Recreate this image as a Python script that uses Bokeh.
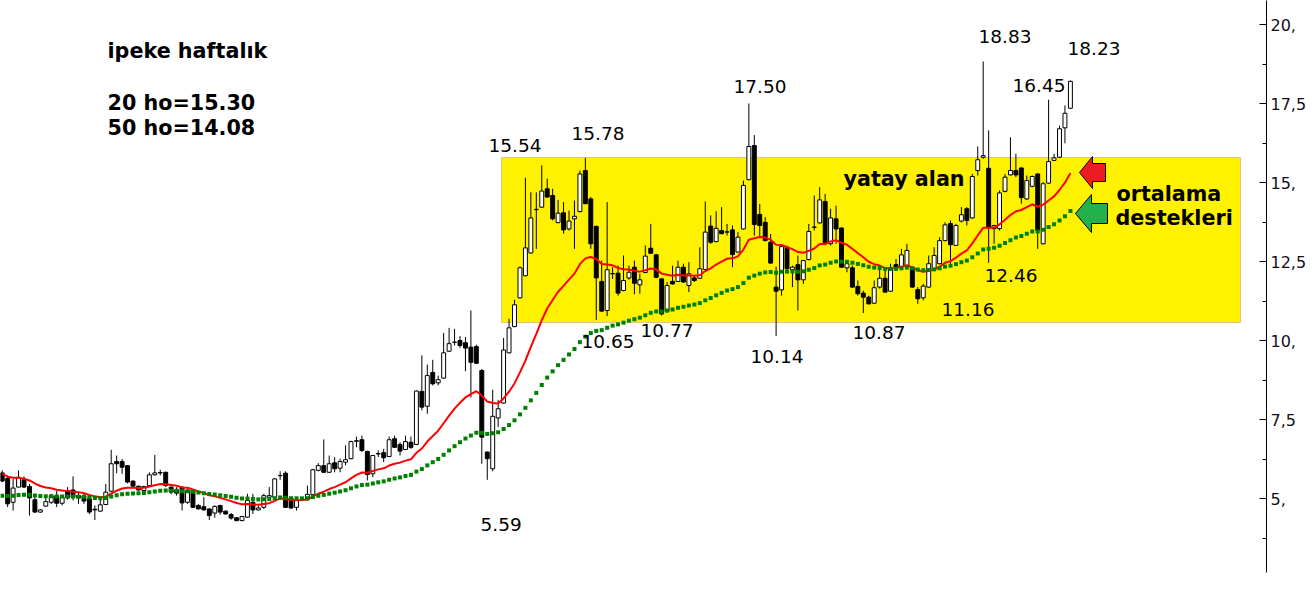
from bokeh.plotting import figure
from bokeh.models import Range1d, FixedTicker, Label, BoxAnnotation, ColumnDataSource
from bokeh.embed import file_html
from bokeh.resources import INLINE

# Weekly IPEKE candles (TL)
opens = [
    5.81, 5.64, 4.88, 5.36, 5.59, 5.38, 4.96, 4.57, 4.76, 4.88,
    5.09, 4.85, 5.25, 5.27, 5.09, 5.09, 4.99, 4.66, 4.60, 4.81,
    5.23, 6.17, 6.17, 6.04, 5.55, 5.39, 5.25, 5.41, 5.75, 5.82,
    5.83, 5.36, 5.27, 5.36, 4.88, 5.27, 4.78, 4.74, 4.67, 4.54,
    4.78, 4.60, 4.49, 4.39, 4.30, 4.41, 4.88, 4.64, 4.72, 5.04,
    5.04, 5.72, 5.80, 5.02, 4.72, 4.96, 4.96, 5.12, 5.89, 6.04,
    5.83, 6.13, 5.96, 6.15, 6.26, 6.81, 6.86, 6.49, 5.78, 6.41,
    6.45, 6.33, 6.89, 6.71, 6.55, 6.78, 6.71, 8.39, 7.92, 8.99,
    8.66, 8.81, 9.66, 9.94, 10.00, 9.93, 9.79, 9.81, 9.05, 6.47,
    5.94, 7.55, 8.02, 9.61, 10.44, 11.35, 12.05, 12.77, 14.14, 14.22,
    14.80, 14.59, 13.73, 14.04, 13.53, 13.85, 14.08, 15.38, 14.48, 13.61,
    11.87, 10.95, 12.11, 12.13, 11.58, 11.98, 12.32, 11.76, 12.15, 12.92,
    12.71, 11.95, 10.92, 11.87, 11.87, 12.32, 11.74, 11.98, 11.97, 12.25,
    13.62, 13.13, 13.48, 13.43, 13.50, 12.80, 13.53, 15.09, 16.17, 13.99,
    13.74, 13.11, 11.69, 11.60, 12.95, 12.24, 12.40, 11.92, 12.56, 13.58,
    13.72, 14.40, 13.06, 13.85, 13.56, 12.30, 12.30, 11.71, 11.50, 11.37,
    11.18, 11.69, 11.97, 11.56, 12.40, 12.34, 12.37, 12.32, 11.61, 11.35,
    11.69, 12.27, 12.43, 13.16, 13.70, 13.01, 13.78, 14.17, 13.88, 15.38,
    15.80, 15.45, 13.54, 13.54, 14.72, 15.24, 15.38, 15.46, 14.48, 14.88,
    15.27, 13.06, 14.98, 15.70, 15.80, 16.73, 17.35,
]
highs = [
    5.89, 5.73, 5.62, 5.89, 5.70, 5.46, 5.09, 4.66, 5.09, 5.15,
    5.25, 5.09, 5.36, 5.70, 5.20, 5.20, 5.09, 4.78, 4.96, 5.46,
    6.54, 6.36, 6.25, 6.06, 5.57, 5.41, 5.40, 5.83, 6.38, 5.91,
    5.85, 5.38, 5.36, 5.38, 5.30, 5.29, 4.83, 5.04, 4.68, 4.78,
    4.80, 4.62, 4.54, 4.41, 4.45, 5.15, 5.15, 4.78, 5.15, 5.36,
    5.65, 5.86, 5.86, 5.04, 4.99, 5.04, 5.41, 5.94, 6.12, 6.87,
    6.36, 6.31, 6.26, 6.68, 6.83, 6.96, 6.99, 6.51, 6.38, 6.52,
    6.57, 6.96, 6.99, 6.78, 6.99, 6.96, 8.42, 9.53, 9.24, 9.39,
    8.89, 10.24, 10.40, 10.37, 10.14, 10.11, 10.95, 9.87, 9.10, 6.49,
    8.44, 8.12, 10.08, 10.69, 11.29, 12.34, 15.15, 14.69, 14.69, 15.54,
    15.12, 14.80, 14.45, 14.38, 14.11, 14.43, 15.38, 15.78, 14.54, 13.64,
    12.53, 14.38, 12.32, 12.37, 12.69, 12.37, 12.53, 12.11, 13.01, 13.69,
    12.74, 11.97, 11.85, 12.37, 12.53, 12.43, 12.48, 12.06, 12.95, 14.40,
    13.96, 14.09, 14.22, 13.69, 13.64, 13.43, 15.06, 17.50, 16.50, 14.32,
    13.90, 13.37, 12.34, 13.00, 13.00, 12.37, 12.69, 12.55, 13.69, 14.59,
    14.85, 14.64, 14.17, 14.27, 13.58, 12.48, 12.37, 11.90, 11.58, 11.42,
    11.90, 12.32, 12.27, 12.43, 12.58, 12.90, 13.06, 12.34, 11.69, 11.79,
    12.69, 12.95, 13.27, 13.74, 13.80, 13.69, 14.22, 14.22, 15.27, 16.14,
    18.83, 16.65, 13.66, 14.75, 15.27, 16.43, 15.91, 15.48, 15.22, 15.22,
    15.29, 15.01, 17.62, 15.91, 16.80, 17.44, 18.23,
]
lows = [
    5.52, 4.73, 4.62, 5.36, 5.33, 4.46, 4.55, 4.55, 4.74, 4.83,
    4.73, 4.78, 4.96, 4.94, 4.83, 4.83, 4.51, 4.32, 4.58, 4.79,
    5.21, 5.80, 5.78, 5.48, 5.36, 5.25, 5.22, 5.36, 5.73, 5.73,
    5.36, 5.13, 5.09, 4.62, 4.83, 4.70, 4.66, 4.62, 4.32, 4.39,
    4.49, 4.49, 4.33, 4.28, 4.28, 4.39, 4.51, 4.62, 4.67, 4.99,
    5.02, 5.59, 4.70, 4.67, 4.62, 4.92, 4.94, 5.10, 5.86, 5.81,
    5.81, 5.83, 5.83, 6.05, 6.24, 6.62, 6.47, 5.57, 5.67, 6.31,
    6.15, 6.31, 6.60, 6.36, 6.53, 6.57, 6.69, 7.79, 7.68, 8.58,
    8.58, 8.79, 9.64, 9.84, 9.77, 9.03, 8.20, 9.26, 6.10, 5.59,
    5.86, 7.26, 8.00, 9.59, 10.42, 11.33, 12.03, 12.75, 12.90, 14.20,
    14.52, 13.80, 13.71, 13.38, 13.48, 12.90, 14.06, 14.31, 12.90, 10.65,
    10.91, 10.77, 11.95, 11.42, 11.56, 11.92, 11.46, 11.48, 12.14, 12.74,
    11.97, 10.79, 10.87, 11.77, 11.85, 11.83, 11.53, 11.85, 11.95, 12.23,
    13.06, 13.11, 13.36, 13.32, 12.32, 12.78, 13.51, 15.07, 13.32, 13.27,
    13.14, 12.43, 10.14, 11.42, 12.16, 11.69, 10.95, 11.79, 12.54, 13.48,
    13.70, 13.01, 13.01, 13.06, 12.30, 12.16, 11.67, 11.42, 10.87, 11.14,
    11.16, 11.64, 11.51, 11.54, 12.21, 12.32, 12.30, 11.67, 11.16, 11.27,
    11.67, 12.21, 12.41, 13.14, 12.43, 12.99, 13.74, 13.64, 13.85, 15.22,
    15.75, 12.46, 13.06, 13.48, 14.69, 15.22, 15.17, 14.33, 14.45, 14.85,
    12.90, 13.04, 14.96, 15.68, 15.78, 16.24, 17.33,
]
closes = [
    5.55, 4.83, 5.33, 5.67, 5.36, 5.02, 4.57, 4.64, 4.90, 5.09,
    4.85, 5.04, 5.02, 5.04, 5.02, 4.92, 4.57, 4.64, 4.80, 5.20,
    6.10, 6.10, 5.99, 5.52, 5.39, 5.27, 5.38, 5.75, 5.81, 5.81,
    5.41, 5.20, 5.17, 4.86, 5.25, 4.72, 4.67, 4.64, 4.46, 4.75,
    4.57, 4.51, 4.38, 4.30, 4.43, 4.94, 4.64, 4.70, 5.09, 5.09,
    5.62, 5.73, 4.72, 4.70, 4.94, 4.97, 5.13, 5.91, 6.04, 5.83,
    6.10, 5.94, 6.17, 6.23, 6.80, 6.83, 6.52, 5.76, 6.36, 6.42,
    6.29, 6.86, 6.62, 6.50, 6.80, 6.62, 8.40, 7.89, 8.89, 8.63,
    8.76, 9.61, 9.90, 9.95, 9.84, 9.76, 9.31, 9.28, 6.94, 6.26,
    7.60, 7.84, 9.70, 10.40, 11.13, 12.30, 12.93, 13.88, 14.15, 14.73,
    14.54, 13.85, 14.03, 13.50, 13.78, 13.93, 15.27, 14.33, 13.06, 11.98,
    10.93, 12.24, 12.12, 11.50, 11.90, 12.16, 11.81, 11.92, 12.67, 12.76,
    12.00, 10.84, 11.74, 11.79, 12.32, 11.85, 12.11, 11.90, 12.27, 13.43,
    13.11, 13.55, 13.38, 13.44, 12.72, 13.27, 14.91, 16.14, 13.67, 13.64,
    13.16, 12.45, 11.56, 12.97, 12.27, 12.32, 11.92, 12.53, 13.45, 13.59,
    14.45, 13.06, 13.88, 13.53, 12.32, 12.43, 11.69, 11.48, 11.37, 11.16,
    11.67, 11.97, 11.53, 12.27, 12.32, 12.71, 12.85, 11.69, 11.32, 11.72,
    12.43, 12.69, 13.16, 13.66, 13.03, 13.64, 13.98, 13.80, 15.19, 15.72,
    15.85, 13.57, 13.64, 14.67, 15.17, 15.38, 15.24, 14.52, 15.06, 15.19,
    13.48, 14.96, 15.66, 15.78, 16.70, 17.19, 18.20,
]

# moving-average levels on the first bar (carried over from earlier weeks)
ema20_first = 5.78
ema50_first = 5.09

tick_values = [5, 7.5, 10, 12.5, 15, 17.5, 20]
tick_labels = ["5,", "7,5", "10,", "12,5", "15,", "17,5", "20,"]
minor_values = [3.75, 6.25, 8.75, 11.25, 13.75, 16.25, 18.75]

# horizontal range ("yatay alan")
zone_low, zone_high = 10.57, 15.79

title_lines = ["ipeke haftalık", "20 ho=15.30", "50 ho=14.08"]
price_notes = ["15.54", "15.78", "17.50", "18.83", "18.23", "16.45",
               "12.46", "11.16", "10.87", "10.14", "10.77", "10.65", "5.59"]


def ema(series, span, first):
    alpha = 2.0 / (span + 1)
    out = [first]
    for v in series[1:]:
        out.append(out[-1] + alpha * (v - out[-1]))
    return out


n = len(closes)
idx = list(range(1, n + 1))
ema20 = ema(closes, 20, ema20_first)
ema50 = ema(closes, 50, ema50_first)

BAR_PX = 5.45        # horizontal pixels per week
PRICE_PX = 31.6      # vertical pixels per TL
FRAME_W, FRAME_H = 1266, 572


def bx(px):
    return 1 + (px - 1.7) / BAR_PX


def py(pix):
    return 20 - (pix - 24) / PRICE_PX


p = figure(width=1312, height=612, output_backend="svg", toolbar_location=None,
           x_range=Range1d(bx(0), bx(FRAME_W)), y_range=Range1d(py(FRAME_H), py(0)),
           x_axis_location=None, y_axis_location="right",
           min_border_left=0, min_border_top=0, min_border_bottom=612 - FRAME_H,
           min_border_right=1312 - FRAME_W)
p.grid.visible = False
p.outline_line_color = None
p.background_fill_color = "white"
p.border_fill_color = "white"

ax = p.yaxis[0]
ax.ticker = FixedTicker(ticks=tick_values, minor_ticks=minor_values)
ax.major_label_overrides = {v: t for v, t in zip(tick_values, tick_labels)}
ax.major_tick_in = 7
ax.major_tick_out = 0
ax.minor_tick_in = 4
ax.minor_tick_out = 0
ax.axis_line_color = "black"
ax.major_tick_line_color = "black"
ax.minor_tick_line_color = "black"
ax.major_label_standoff = 4
ax.major_label_text_font = "DejaVu Sans"
ax.major_label_text_font_size = "16px"
ax.major_label_text_color = "#10101c"

# yellow zone
p.add_layout(BoxAnnotation(left=bx(501), right=bx(1240), bottom=zone_low, top=zone_high,
                           fill_color="#FFF200", fill_alpha=1.0,
                           line_color="#A349A4", line_width=1, level="underlay"))

src = ColumnDataSource(dict(
    x=idx, o=opens, h=highs, l=lows, c=closes,
    top=[max(a, b) for a, b in zip(opens, closes)],
    bot=[min(a, b) for a, b in zip(opens, closes)],
    fill=["white" if c >= o else "black" for o, c in zip(opens, closes)],
))
p.segment(x0="x", y0="l", x1="x", y1="h", source=src, line_color="black", line_width=1)
p.vbar(x="x", width=0.72, top="top", bottom="bot", source=src,
       fill_color="fill", line_color="black", line_width=1)

# averages
p.line(idx, ema20, line_color="#FF0000", line_width=2)
p.scatter(idx, ema50, marker="square", size=4, fill_color="#008000",
          line_color="#008000", line_width=0)

# arrows pointing at the averages
red_arrow = [(1079, 172), (1092, 156), (1092, 163), (1105, 163), (1105, 181),
             (1092, 181), (1092, 188)]
green_arrow = [(1075, 213), (1091, 194), (1091, 203), (1107, 203), (1107, 223),
               (1091, 223), (1091, 232)]
for shape, col in ((red_arrow, "#ED1C24"), (green_arrow, "#22B14C")):
    p.patch([bx(a) for a, _ in shape], [py(b) for _, b in shape],
            fill_color=col, line_color="black", line_width=1)


def note(text, left_px, mid_px, size, bold=False):
    p.add_layout(Label(x=bx(left_px), y=py(mid_px), text=text,
                       text_font="DejaVu Sans", text_font_size=size,
                       text_font_style="bold" if bold else "normal",
                       text_color="black", text_align="left", text_baseline="middle"))


note(title_lines[0], 107, 50, "20.7px", True)
note(title_lines[1], 107, 102, "20.7px", True)
note(title_lines[2], 107, 127, "20.7px", True)
note("yatay alan", 843, 178, "20.7px", True)
note("ortalama", 1116, 193, "20.7px", True)
note("destekleri", 1115, 217, "20.7px", True)

note_pos = [(488, 145), (571, 133), (733, 86), (978, 36), (1067, 48), (1012, 85),
            (984, 275), (941, 309), (852, 332), (750, 356), (640, 330), (581, 341),
            (480, 524)]
for t, (lx, ly) in zip(price_notes, note_pos):
    note(t, lx, ly, "18.5px")

open("out.html", "w").write(file_html(p, INLINE))
